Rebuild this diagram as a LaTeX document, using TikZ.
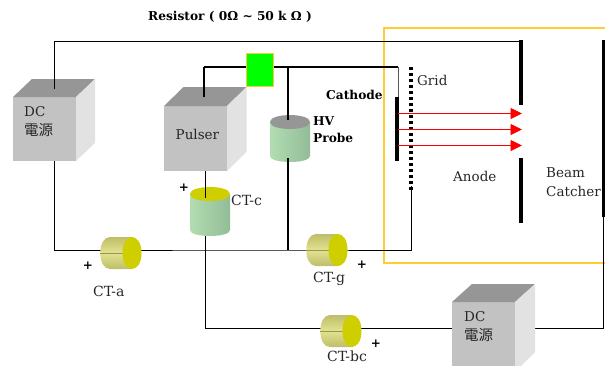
\documentclass[tikz,border=0pt]{standalone}
\usepackage{fontspec}
\setmainfont{DejaVu Serif}
\newfontfamily\cjkfont{Noto Sans CJK TC}
\usetikzlibrary{arrows.meta}
\definecolor{cubefront}{HTML}{C2C2C2}
\definecolor{cubetop}{HTML}{969696}
\definecolor{cubeside}{HTML}{E2E2E2}
\definecolor{ctyellow}{HTML}{CFCF00}
\definecolor{boxline}{HTML}{FFCC33}
\definecolor{fillgreen}{HTML}{00FF00}
\definecolor{cylgreenA}{HTML}{B2DDB2}
\definecolor{cylgreenB}{HTML}{92BC96}
\definecolor{hcylA}{HTML}{E2E290}
\definecolor{hcylB}{HTML}{BDBD6A}
\tikzset{
  wire/.style={draw=black,line width=1pt},
  thickwire/.style={draw=black,line width=1.5pt},
  plate/.style={draw=black,line width=3.6pt},
  beam/.style={draw=red,line width=0.8pt,-{Triangle[length=11.5pt,width=11pt,fill=red]}},
  lab/.style={inner sep=0pt,anchor=west,font=\fontsize{13.5}{15}\selectfont,text=black!85},
  ctlab/.style={lab,font=\fontsize{14}{15}\selectfont},
  cjklab/.style={lab,font=\cjkfont\fontsize{14.5}{15}\selectfont},
  blab/.style={lab,font=\fontsize{12.2}{14}\selectfont\bfseries,text=black},
  pluslab/.style={inner sep=0pt,font=\fontsize{12}{12}\selectfont\bfseries}
}
\newcommand{\cubeshape}[7]{%
  \fill[cubefront] (#1,#2) rectangle (#3,#4);
  \fill[cubetop] (#1,#2) -- ({#1+#6},#5) -- ({#3+#6},#5) -- (#3,#2) -- cycle;
  \fill[cubeside] (#3,#2) -- ({#3+#6},#5) -- ({#3+#6},#7) -- (#3,#4) -- cycle;
}
\newcommand{\vcyl}[5]{%
  \shade[left color=cylgreenA,right color=cylgreenB]
    (#1,#3) -- (#1,{#4-6}) .. controls (#1,{#4+2}) and (#2,{#4+2}) .. (#2,{#4-6}) -- (#2,#3) -- cycle;
  \fill[#5] (#1,#3) .. controls (#1,{#3-9.3}) and (#2,{#3-9.3}) .. (#2,#3)
    .. controls (#2,{#3+9.3}) and (#1,{#3+9.3}) .. (#1,#3) -- cycle;
}
\newcommand{\hcyl}[3]{%
  \shade[top color=hcylB,bottom color=hcylB,middle color=hcylA]
    (#1,{#3-16}) .. controls ({#1-13},{#3-16}) and ({#1-13},{#3+16}) .. (#1,{#3+16}) -- (#2,{#3+16}) -- (#2,{#3-16}) -- cycle;
  \draw[hcylB!80!black,line width=0.5pt] ({#1-10},#3) -- (#2,#3);
  \fill[ctyellow] ({#2-9.5},#3) .. controls ({#2-9.5},{#3-21.3}) and ({#2+9.5},{#3-21.3}) .. ({#2+9.5},#3)
    .. controls ({#2+9.5},{#3+21.3}) and ({#2-9.5},{#3+21.3}) .. ({#2-9.5},#3) -- cycle;
}
\begin{document}
\begin{tikzpicture}[x=1pt,y=-1pt]
\useasboundingbox (0,0) rectangle (605,365);
\clip (0,0) rectangle (605,365);
\coordinate (dclTop) at (54,89);
\coordinate (dclBot) at (54,161);
\coordinate (topL) at (54,41);
\coordinate (topR) at (521,41);
\coordinate (puTop) at (204,97);
\coordinate (puCorner) at (204,67);
\coordinate (puBot) at (205,171);
\coordinate (catCorner) at (398,67);
\coordinate (catTop) at (398,97);
\coordinate (catPlateT) at (397,97);
\coordinate (catPlateB) at (397,161);
\coordinate (hvJoin) at (288,67);
\coordinate (hvTop) at (288,120);
\coordinate (hvBot) at (288,158);
\coordinate (hvStub) at (288,164);
\coordinate (hvFoot) at (288,250);
\coordinate (grTop) at (411,67);
\coordinate (grBot) at (411,191);
\coordinate (grFoot) at (411.5,250);
\coordinate (grStem) at (411.5,186);
\coordinate (busL) at (54,250);
\coordinate (ctcIn) at (205,198);
\coordinate (bcCorner) at (205,328.5);
\coordinate (bcR) at (603.5,328.5);
\coordinate (bcTop) at (603.5,217);
\coordinate (bcUp) at (603.5,40);
\coordinate (anAT) at (521,40);
\coordinate (anAB) at (521,105);
\coordinate (anBT) at (521,158);
\coordinate (anBB) at (521,223);
\coordinate (yA) at (610,28);
\coordinate (yB) at (384,28);
\coordinate (yC) at (384,263);
\coordinate (yD) at (610,263);
% yellow region
\draw[boxline,line width=1.4pt] (yA) -- (yB) -- (yC) -- (yD);
% wires
\draw[wire] (dclBot) -- (busL) -- (hvFoot) -- (grFoot) -- (grStem);
\draw[wire] (puBot) -- (bcCorner) -- (bcR) -- (bcTop);
\draw[thickwire] (hvBot) -- (hvFoot);
\draw[thickwire] (puCorner) -- (hvJoin) -- (catCorner);
\draw[wire,black!65] (catCorner) -- (catTop);
% electrodes
\draw[plate] (catPlateT) -- (catPlateB);
\draw[draw=black,line width=3.6pt,dash pattern=on 3.2pt off 2.8pt] (grTop) -- (grBot);
\draw[plate] (anAT) -- (anAB);
\draw[plate] (anBT) -- (anBB);
\draw[draw=black,line width=2.2pt] (bcUp) -- (bcTop);
% beams
\coordinate (b1s) at (398,113.5); \coordinate (b1e) at (522,113.5);
\coordinate (b2s) at (398,129.5); \coordinate (b2e) at (522,129.5);
\coordinate (b3s) at (398,145.5); \coordinate (b3e) at (522,145.5);
\draw[beam] (b1s) -- (b1e);
\draw[beam] (b2s) -- (b2e);
\draw[beam] (b3s) -- (b3e);
% cubes
\cubeshape{13}{97}{76}{161}{79}{19}{143}
\draw[wire] (dclTop) -- (topL) -- (topR);
\cubeshape{164}{106}{227}{171}{87}{19.5}{152}
\draw[thickwire] (puTop) -- (puCorner);
\cubeshape{452}{302}{515}{372}{284}{20}{352}
% switch
\node[draw=boxline,fill=fillgreen,line width=1pt,minimum width=26.5pt,minimum height=33pt,inner sep=0pt] (sw) at (260,70) {};
% cylinders
\vcyl{270}{310}{122}{162}{cubetop}
\draw[thickwire] (hvJoin) -- (hvTop);
\draw[thickwire] (hvBot) -- (hvStub);
\vcyl{190}{230}{194}{236}{ctyellow}
\draw[wire] (puBot) -- (ctcIn);
\hcyl{110}{132}{253}
\hcyl{316}{338}{250}
\hcyl{330}{352}{331}
% labels
\node[blab] (rlab) at (148,16.5) {Resistor ( 0Ω \textasciitilde{} 50 k Ω )};
\node[blab] (clab) at (326,95) {Cathode};
\node[blab] (hv1) at (313,121) {HV};
\node[blab] (hv2) at (313,138) {Probe};
\node[lab] (gl) at (417,80) {Grid};
\node[lab] (al) at (453,176) {Anode};
\node[lab] (b1) at (546,173) {Beam};
\node[lab] (b2) at (546,191) {Catcher};
\node[lab] (dc1) at (24,112) {DC};
\node[cjklab] (dc2) at (24,130) {電源};
\node[lab] (pl) at (175.5,134) {Pulser};
\node[lab] (dc3) at (464,317) {DC};
\node[cjklab] (dc4) at (464,335) {電源};
\node[ctlab] (ctc) at (231,200) {CT-c};
\node[ctlab] (cta) at (93,291) {CT-a};
\node[ctlab] (ctg) at (313,279) {CT-g};
\node[ctlab] (ctb) at (327,356) {CT-bc};
\node[pluslab] (p1) at (88,266) {+};
\node[pluslab] (p2) at (184,188) {+};
\node[pluslab] (p3) at (362,265) {+};
\node[pluslab] (p4) at (376,344) {+};
\end{tikzpicture}
\end{document}
